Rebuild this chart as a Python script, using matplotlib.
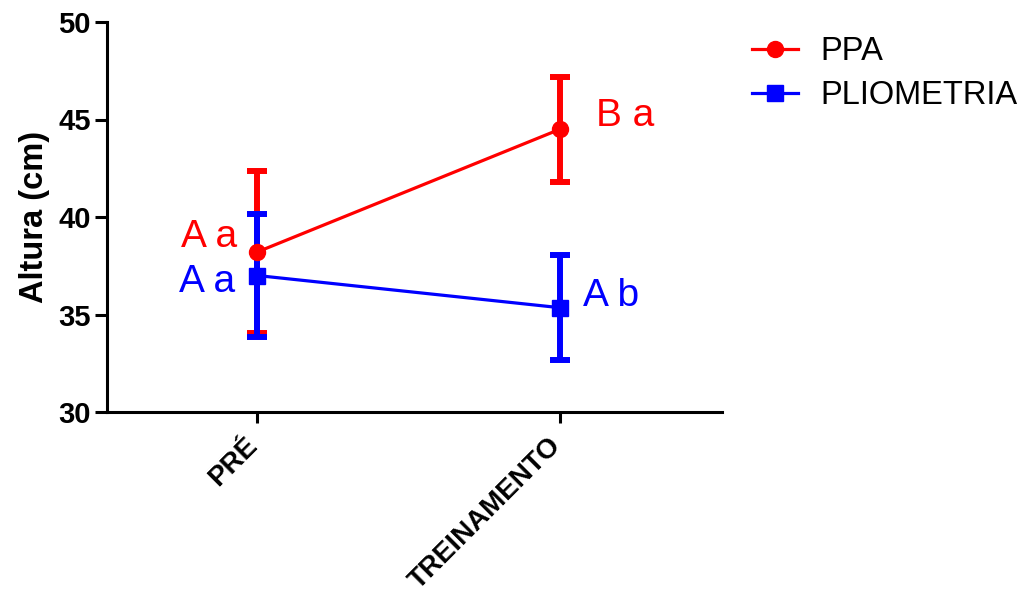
import matplotlib
matplotlib.use("Agg")
import matplotlib.pyplot as plt
import matplotlib.transforms as mtransforms

plt.rcParams['font.family'] = ['Liberation Sans', 'DejaVu Sans']

categories = ["PRÉ", "TREINAMENTO"]
series_names = ["PPA", "PLIOMETRIA"]
ppa_mean = [38.2, 44.5]
ppa_sd = [4.15, 2.7]
plio_mean = [37.0, 35.35]
plio_sd = [3.15, 2.7]
colors = ["#FF0000", "#0000FF"]
markers = ["o", "s"]
letters_ppa = ["A a", "B a"]
letters_plio = ["A a", "A b"]
yticks = [30, 35, 40, 45, 50]

fig = plt.figure(figsize=(10.23, 5.99), dpi=100)
ax = fig.add_axes([107/1023, 1-412/599, (722-107)/1023, (412-22)/599])

x = list(range(len(categories)))
handles = []
for means, sds, c, m, name in [(ppa_mean, ppa_sd, colors[0], markers[0], series_names[0]),
                               (plio_mean, plio_sd, colors[1], markers[1], series_names[1])]:
    ax.errorbar(x, means, yerr=sds, fmt='none', ecolor=c, elinewidth=4.3,
                capsize=7.5, capthick=4.3, zorder=3)
    h, = ax.plot(x, means, color=c, lw=2.3, marker=m, markersize=11.5, label=name, zorder=4)
    handles.append(h)

# annotations
ax.text(-0.066, 38.97, letters_ppa[0], color=colors[0], fontsize=28, ha='right', va='center')
ax.text(-0.073, 36.67, letters_plio[0], color=colors[1], fontsize=28, ha='right', va='center')
ax.text(1.119, 45.18, letters_ppa[1], color=colors[0], fontsize=28, ha='left', va='center')
ax.text(1.076, 35.95, letters_plio[1], color=colors[1], fontsize=28, ha='left', va='center')

ax.set_xlim(-0.495, 1.535)
ax.set_ylim(30, 50)
ax.set_yticks(yticks)
ax.set_xticks(x)
ax.set_xticklabels(categories, rotation=45, ha='right', fontsize=20, fontweight='bold')
ax.tick_params(axis='y', labelsize=21, width=2.2, length=8.5, direction='out', pad=3)
ax.tick_params(axis='x', width=2.2, length=8, direction='out', pad=7)
for lab in ax.get_yticklabels():
    lab.set_fontweight('bold')
offset = mtransforms.ScaledTranslation(6/100, 0, fig.dpi_scale_trans)
for lab in ax.get_xticklabels():
    lab.set_transform(lab.get_transform() + offset)
ax.set_ylabel("Altura (cm)", fontsize=23.5, fontweight='bold', labelpad=6)

for s in ['top', 'right']:
    ax.spines[s].set_visible(False)
for s in ['left', 'bottom']:
    ax.spines[s].set_linewidth(2.2)

fig.legend(handles=handles, loc='upper left', bbox_to_anchor=(752/1023, 1-36/599),
           frameon=False, fontsize=23.5, handlelength=1.4, handletextpad=0.7,
           labelspacing=0.4, borderpad=0, borderaxespad=0)

fig.savefig("out.png", dpi=100)
